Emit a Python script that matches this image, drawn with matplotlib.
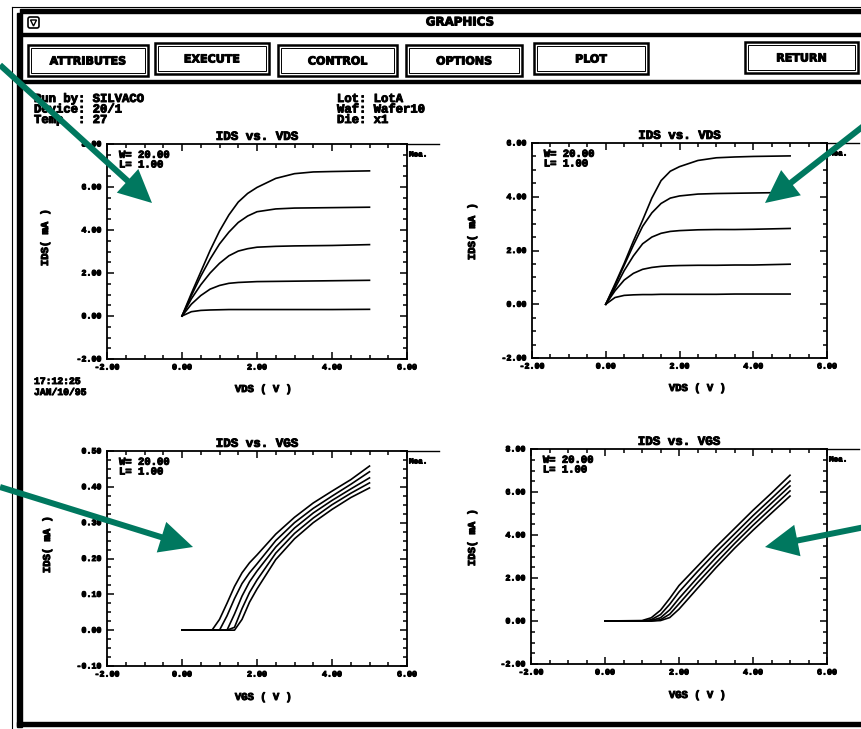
import matplotlib.pyplot as plt
import matplotlib.patheffects as pe
from matplotlib.patches import Rectangle, FancyArrow, Polygon, FancyBboxPatch
from matplotlib.ticker import MultipleLocator, FormatStrFormatter

# ---- data ----
vds = [0, 0.25, 0.5, 0.75, 1.0, 1.25, 1.5, 1.75, 2.0, 2.5, 3.0, 3.5, 4.0, 5.0]

# IDS vs VDS, VGS start 1.360 step 0.910, VBS 0
ids_a1 = [0, 1.05, 2.05, 3.05, 3.95, 4.7, 5.3, 5.7, 5.98, 6.4, 6.62, 6.7, 6.72, 6.75]
ids_a2 = [0, 0.95, 1.85, 2.65, 3.35, 3.9, 4.35, 4.65, 4.85, 4.98, 5.02, 5.03, 5.04, 5.06]
ids_a3 = [0, 0.8, 1.45, 2.0, 2.45, 2.8, 3.02, 3.13, 3.2, 3.24, 3.26, 3.27, 3.28, 3.32]
ids_a4 = [0, 0.55, 0.95, 1.25, 1.42, 1.52, 1.56, 1.58, 1.6, 1.61, 1.62, 1.63, 1.64, 1.66]
ids_a5 = [0, 0.2, 0.26, 0.28, 0.29, 0.3, 0.3, 0.3, 0.3, 0.3, 0.3, 0.3, 0.3, 0.31]

# IDS vs VDS, VGS start 2.100 step 0.725, VBS -3
ids_b1 = [0, 0.75, 1.52, 2.35, 3.13, 3.95, 4.6, 4.95, 5.12, 5.35, 5.45, 5.48, 5.5, 5.52]
ids_b2 = [0, 0.7, 1.45, 2.2, 2.9, 3.4, 3.75, 3.95, 4.03, 4.1, 4.12, 4.13, 4.14, 4.16]
ids_b3 = [0, 0.6, 1.25, 1.8, 2.25, 2.5, 2.64, 2.71, 2.74, 2.77, 2.78, 2.78, 2.79, 2.82]
ids_b4 = [0, 0.5, 0.9, 1.15, 1.3, 1.37, 1.41, 1.43, 1.44, 1.45, 1.45, 1.46, 1.46, 1.49]
ids_b5 = [0, 0.25, 0.33, 0.35, 0.36, 0.36, 0.37, 0.37, 0.37, 0.37, 0.37, 0.38, 0.38, 0.38]

# IDS vs VGS, VDS 0.1
vgs_c = [0, 0.8, 1.0, 1.2, 1.4, 1.6, 1.8, 2.0, 2.5, 3.0, 3.5, 4.0, 4.5, 5.0]
ids_c1 = [0, 0, 0.03, 0.075, 0.122, 0.16, 0.188, 0.21, 0.268, 0.315, 0.355, 0.388, 0.42, 0.458]
ids_c2 = [0, 0, 0, 0.04, 0.088, 0.13, 0.16, 0.185, 0.25, 0.30, 0.34, 0.374, 0.407, 0.442]
ids_c3 = [0, 0, 0, 0, 0.045, 0.095, 0.135, 0.165, 0.232, 0.285, 0.327, 0.362, 0.394, 0.425]
ids_c4 = [0, 0, 0, 0, 0.008, 0.06, 0.105, 0.14, 0.215, 0.27, 0.313, 0.35, 0.382, 0.411]
ids_c5 = [0, 0, 0, 0, 0, 0.03, 0.078, 0.115, 0.197, 0.255, 0.30, 0.337, 0.37, 0.397]

# IDS vs VGS, VDS 5.0
vgs_d = [0, 1.0, 1.25, 1.5, 1.75, 2.0, 2.5, 3.0, 3.5, 4.0, 4.5, 5.0]
ids_d1 = [0, 0.02, 0.15, 0.5, 1.05, 1.65, 2.55, 3.45, 4.3, 5.15, 5.95, 6.78]
ids_d2 = [0, 0, 0.06, 0.3, 0.78, 1.35, 2.3, 3.2, 4.05, 4.9, 5.7, 6.51]
ids_d3 = [0, 0, 0.02, 0.15, 0.52, 1.05, 2.02, 2.95, 3.82, 4.67, 5.48, 6.28]
ids_d4 = [0, 0, 0, 0.06, 0.32, 0.8, 1.78, 2.7, 3.6, 4.45, 5.25, 6.05]
ids_d5 = [0, 0, 0, 0.02, 0.16, 0.55, 1.52, 2.48, 3.38, 4.22, 5.02, 5.81]

buttons = ['ATTRIBUTES', 'EXECUTE', 'CONTROL', 'OPTIONS', 'PLOT', 'RETURN']

info_a = ['VGS step  = 0.910', 'VGS start = 1.360', 'VBS       = 0.000', 'MODEL: BSIM3']
info_b = ['VGS step  = 0.725', 'VGS start = 2.100', 'VBS       =-3.000', 'MODEL: BSIM3']
info_c = ['VBS step  =-0.600', 'VBS start = 0.000', 'VDS       = 0.100', 'MODEL: BSIM3']
info_d = ['VBS step  =-0.600', 'VBS start = 0.000', 'VDS       = 5.000', 'MODEL: BSIM3']

W, H = 861, 729
mono = 'Liberation Mono'
teal = '#00785f'
fx = [pe.withStroke(linewidth=0.7, foreground='black')]   # fatter printer-like text

fig = plt.figure(figsize=(W / 100, H / 100), dpi=100)

# background axes in pixel units (y down)
bg = fig.add_axes([0, 0, 1, 1])
bg.set_xlim(0, W)
bg.set_ylim(H, 0)
bg.axis('off')


def mtext(x, y, s, size, **kw):
    return bg.text(x, y, s, family=mono, fontweight='bold', fontsize=size,
                   path_effects=fx, **kw)


# window chrome
bg.plot([12, 12], [7, H], color='black', lw=0.8)
bg.plot([12, W], [7, 7], color='black', lw=0.8)
bg.add_patch(Rectangle((17, 13), 5, 714, color='black'))
bg.add_patch(Rectangle((20, 9), W - 20, 4, color='black'))
bg.add_patch(Rectangle((20, 33), W - 20, 3, color='black'))
bg.add_patch(Rectangle((20, 80), W - 20, 3, color='black'))
bg.add_patch(Rectangle((17, 722), W - 17, 4, color='black'))
bg.add_patch(FancyBboxPatch((28, 17), 11, 11, boxstyle='round,pad=0,rounding_size=2',
                            fill=False, ec='black', lw=1.2))
bg.add_patch(Polygon([[30.5, 20], [36.5, 20], [33.5, 26]], closed=True, fill=False,
                     ec='black', lw=1))
bg.text(460, 22, 'GRAPHICS', ha='center', va='center', fontsize=8.5,
        fontweight='bold', family='DejaVu Sans', path_effects=fx)

btn_x = [(28, 148), (155, 269), (278, 397), (406, 522), (534, 648), (745, 858)]
btn_y = [(45, 76), (43, 74), (45, 76), (45, 76), (43, 74), (42, 73)]
for name, (x0, x1), (y0, y1) in zip(buttons, btn_x, btn_y):
    bg.add_patch(Rectangle((x0, y0), x1 - x0, y1 - y0, fill=False, ec='black', lw=1.8))
    bg.add_patch(Rectangle((x0 + 3, y0 + 3), x1 - x0 - 6, y1 - y0 - 6, fill=False,
                           ec='black', lw=0.7))
    bg.text((x0 + x1) / 2, (y0 + y1) / 2 + 1, name, ha='center', va='center',
            fontsize=8, fontweight='bold', family='DejaVu Sans', path_effects=fx)

# header text
for i, s in enumerate(['Run by: SILVACO', 'Device: 20/1', 'Temp  : 27']):
    mtext(34, 99 + 10.5 * i, s, 8.8, va='center')
for i, s in enumerate(['Lot: LotA', 'Waf: Wafer10', 'Die: x1']):
    mtext(337, 99 + 10.5 * i, s, 8.8, va='center')
mtext(34, 381, '17:12:25', 7, va='center')
mtext(34, 392, 'JAN/10/95', 7, va='center')


def panel(box, xs, curves, ylim, ymaj, ymin, title, xlabel, info, info_xy,
          ylab_xy, xlab_xy):
    x0, y0, x1, y1 = box
    ax = fig.add_axes([x0 / W, 1 - y1 / H, (x1 - x0) / W, (y1 - y0) / H])
    for c in curves:
        ax.plot(xs, c, color='black', lw=1.2)
    ax.set_xlim(-2, 6)
    ax.set_ylim(*ylim)
    ax.xaxis.set_major_locator(MultipleLocator(2))
    ax.xaxis.set_minor_locator(MultipleLocator(0.5))
    ax.yaxis.set_major_locator(MultipleLocator(ymaj))
    ax.yaxis.set_minor_locator(MultipleLocator(ymin))
    ax.xaxis.set_major_formatter(FormatStrFormatter('%.2f'))
    ax.yaxis.set_major_formatter(FormatStrFormatter('%.2f'))
    ax.tick_params(which='both', direction='in', top=True, right=True, width=1.1)
    ax.tick_params(which='major', length=5, labelsize=6, pad=4)
    ax.tick_params(which='minor', length=3)
    for lab in ax.get_xticklabels() + ax.get_yticklabels():
        lab.set_family(mono)
        lab.set_fontweight('bold')
        lab.set_path_effects(fx)
    for sp in ax.spines.values():
        sp.set_linewidth(1.3)
    ax.set_title(title, family=mono, fontweight='bold', fontsize=9, pad=3,
                 path_effects=fx)
    ax.text(0.04, 0.95, 'W= 20.00', transform=ax.transAxes, family=mono,
            fontweight='bold', fontsize=7.6, va='center', path_effects=fx)
    ax.text(0.04, 0.905, 'L= 1.00', transform=ax.transAxes, family=mono,
            fontweight='bold', fontsize=7.6, va='center', path_effects=fx)
    for i, s in enumerate(info):
        mtext(info_xy[0], info_xy[1] + 11 * i, s, 7.6, va='center')
    mtext(ylab_xy[0], ylab_xy[1], 'IDS( mA )', 7.6, rotation=90, ha='center',
          va='center')
    mtext(xlab_xy[0], xlab_xy[1], xlabel, 7.6, ha='center', va='center')
    bg.plot([x1, x1 + 32], [y0, y0], color='black', lw=1)
    mtext(x1 + 2, y0 + 11, 'Mea.', 5.5, va='center')
    return ax


panel((107, 144, 407, 359), vds, [ids_a1, ids_a2, ids_a3, ids_a4, ids_a5],
      (-2, 8), 2, 0.5, 'IDS vs. VDS', 'VDS ( V )', info_a, (263, 307),
      (45, 238), (263, 389))
panel((532, 143, 827, 358), vds, [ids_b1, ids_b2, ids_b3, ids_b4, ids_b5],
      (-2, 6), 2, 0.5, 'IDS vs. VDS', 'VDS ( V )', info_b, (688, 306),
      (472, 232), (697, 388))
panel((107, 451, 407, 666), vgs_c, [ids_c1, ids_c2, ids_c3, ids_c4, ids_c5],
      (-0.1, 0.5), 0.1, 0.025, 'IDS vs. VGS', 'VGS ( V )', info_c, (265, 614),
      (47, 545), (263, 697))
panel((531, 449, 827, 664), vgs_d, [ids_d1, ids_d2, ids_d3, ids_d4, ids_d5],
      (-2, 8), 2, 0.5, 'IDS vs. VGS', 'VGS ( V )', info_d, (689, 612),
      (472, 538), (697, 695))

# teal call-out arrows on top
top = fig.add_axes([0, 0, 1, 1], zorder=10)
top.set_xlim(0, W)
top.set_ylim(H, 0)
top.axis('off')
top.patch.set_alpha(0)
arrows = [((0, 65), (152, 203)), ((875, 117), (765, 203)),
          ((0, 487), (193, 547)), ((875, 525), (765, 547))]
for (sx, sy), (tx, ty) in arrows:
    top.add_patch(FancyArrow(sx, sy, tx - sx, ty - sy, width=6, head_width=32,
                             head_length=33, length_includes_head=True,
                             color=teal, lw=0))

fig.savefig('out.png', dpi=100)
